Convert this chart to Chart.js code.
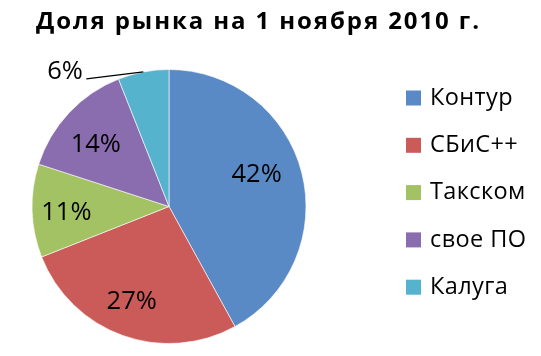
<!DOCTYPE html>
<html><head><meta charset="utf-8">
<script src="https://cdn.jsdelivr.net/npm/chart.js@4"></script>
<style>html,body{margin:0;padding:0;background:#fff}#wrap{width:541px;height:356px}canvas{display:block}</style>
</head><body>
<div id="wrap"><canvas id="c" width="541" height="356"></canvas></div>
<script>
const chartTitle = 'Доля рынка на 1 ноября 2010 г.';
const categories = ['Контур', 'СБиС++', 'Такском', 'свое ПО', 'Калуга'];
const shares = [42, 27, 11, 14, 6];
const sliceColors = ['#5A8AC6', '#CA5B59', '#A3C264', '#8A6DAE', '#55B3CD'];

const FONT = '"Open Sans", Lato, "Noto Sans", sans-serif';
// label placement inside slice: radius fraction and angle shift (deg); null = outside with leader
const labelStyle = [
  { r: 0.683, da: -6.1 },
  { r: 0.74, da: 1.8 },
  { r: 0.75, da: -1.3 },
  { r: 0.706, da: -2.4 },
  null
];

const decor = {
  id: 'decor',
  afterDatasetsDraw(chart) {
    const ctx = chart.ctx;
    const meta = chart.getDatasetMeta(0);
    const ds = chart.data.datasets[0];
    ctx.save();
    ctx.fillStyle = '#000';
    ctx.textBaseline = 'middle';
    ctx.font = '25.5px ' + FONT;
    meta.data.forEach((arc, i) => {
      const p = arc.getProps(['x', 'y', 'startAngle', 'endAngle', 'outerRadius'], true);
      const mid = (p.startAngle + p.endAngle) / 2;
      const txt = ds.data[i] + '%';
      const s = labelStyle[i];
      if (s) {
        const a = mid + s.da * Math.PI / 180;
        ctx.textAlign = 'center';
        ctx.fillText(txt, p.x + Math.cos(a) * p.outerRadius * s.r, p.y + Math.sin(a) * p.outerRadius * s.r + 1);
      } else {
        const ex = p.x + Math.cos(mid) * p.outerRadius;
        const ey = p.y + Math.sin(mid) * p.outerRadius;
        const lx = ex - 57, ly = ey + 7;
        ctx.strokeStyle = '#000';
        ctx.lineWidth = 1.3;
        ctx.beginPath();
        ctx.moveTo(ex, ey);
        ctx.lineTo(lx, ly);
        ctx.stroke();
        ctx.textAlign = 'right';
        ctx.fillText(txt, lx - 3.4, ly - 7.5);
      }
    });
    // title
    ctx.font = 'bold 24px ' + FONT;
    ctx.letterSpacing = '1.9px';
    ctx.textAlign = 'center';
    ctx.textBaseline = 'alphabetic';
    ctx.fillText(chartTitle, 258.5, 28.5);
    ctx.letterSpacing = '0px';
    // legend
    ctx.font = '23.5px ' + FONT;
    ctx.letterSpacing = '0.4px';
    ctx.textAlign = 'left';
    ctx.textBaseline = 'middle';
    chart.data.labels.forEach((lab, i) => {
      const cy = 98 + i * 47.3;
      ctx.fillStyle = ds.backgroundColor[i];
      ctx.fillRect(406, cy - 7.5, 15, 15);
      ctx.fillStyle = '#000';
      ctx.fillText(lab, 430, cy);
    });
    ctx.restore();
  }
};

new Chart(document.getElementById('c'), {
  type: 'pie',
  data: {
    labels: categories,
    datasets: [{
      data: shares,
      backgroundColor: sliceColors,
      borderColor: 'rgba(255,255,255,0.6)',
      borderWidth: 1
    }]
  },
  options: {
    responsive: false,
    animation: false,
    devicePixelRatio: 1,
    layout: { padding: { left: 31.5, right: 234.5, top: 69, bottom: 12 } },
    plugins: {
      legend: { display: false },
      title: { display: false },
      tooltip: { enabled: false }
    }
  },
  plugins: [decor]
});
</script>
</body></html>
